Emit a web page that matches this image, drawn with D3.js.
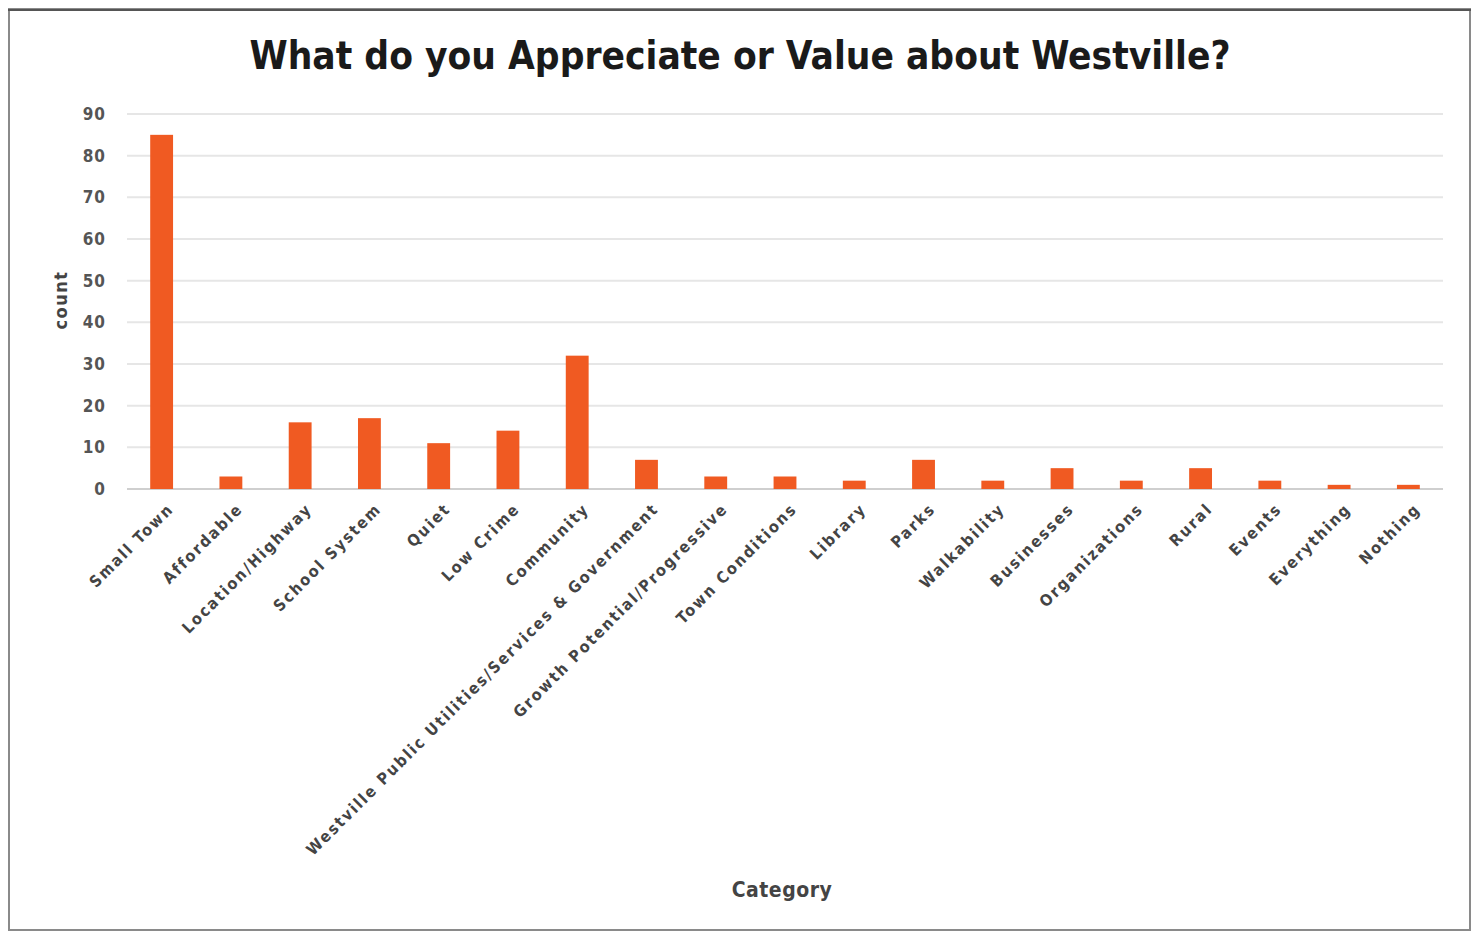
<!DOCTYPE html>
<html>
<head>
<meta charset="utf-8">
<script src="https://cdn.jsdelivr.net/npm/d3@7"></script>
<style>
  html, body { margin: 0; padding: 0; background: #fff; }
  svg { display: block; }
</style>
</head>
<body>
<svg id="chart" width="1480" height="934"></svg>
<script>
// Survey responses: what residents appreciate about Westville
const categories = [
  "Small Town", "Affordable", "Location/Highway", "School System", "Quiet",
  "Low Crime", "Community", "Westville Public Utilities/Services & Government",
  "Growth Potential/Progressive", "Town Conditions", "Library", "Parks",
  "Walkability", "Businesses", "Organizations", "Rural", "Events",
  "Everything", "Nothing"
];
const counts = [85, 3, 16, 17, 11, 14, 32, 7, 3, 3, 2, 7, 2, 5, 2, 5, 2, 1, 1];
const yTicks = [0, 10, 20, 30, 40, 50, 60, 70, 80, 90];

const titleText = "What do you Appreciate or Value about Westville?";
const xTitle = "Category";
const yTitle = "count";

const FONT = "DejaVu Sans Condensed, DejaVu Sans, sans-serif";

const svg = d3.select("#chart");
const W = 1480, H = 934;
const margin = { left: 127, right: 37, top: 114, bottom: 445 };
const plotW = W - margin.left - margin.right;
const plotH = H - margin.top - margin.bottom;

// Frame around the chart
svg.append("rect")
  .attr("x", 9).attr("y", 9)
  .attr("width", W - 19).attr("height", H - 13)
  .attr("fill", "#fff")
  .attr("stroke", "#8a8a8a").attr("stroke-width", 2);
svg.append("line")
  .attr("x1", 8).attr("x2", W - 9).attr("y1", 10).attr("y2", 10)
  .attr("stroke", "#555").attr("stroke-width", 2);

const x = d3.scaleBand()
  .domain(categories)
  .range([margin.left, margin.left + plotW])
  .paddingInner(0.67)
  .paddingOuter(0.335);

const y = d3.scaleLinear()
  .domain([0, 90])
  .range([margin.top + plotH, margin.top]);

// Horizontal gridlines
svg.append("g")
  .selectAll("line")
  .data(yTicks)
  .join("line")
  .attr("x1", margin.left).attr("x2", margin.left + plotW)
  .attr("y1", d => y(d)).attr("y2", d => y(d))
  .attr("stroke", d => d === 0 ? "#cfcfcf" : "#e6e6e6")
  .attr("stroke-width", 2);

// Y axis tick labels
const yAxis = d3.axisLeft(y).tickValues(yTicks).tickSize(0).tickPadding(0);
const gy = svg.append("g")
  .attr("transform", `translate(${margin.left - 21},0)`)
  .call(yAxis);
gy.select(".domain").remove();
gy.selectAll("text")
  .attr("font-family", FONT)
  .attr("font-size", 17)
  .attr("font-weight", "bold")
  .attr("letter-spacing", 1)
  .attr("fill", "#555");

// Bars
svg.append("g")
  .selectAll("rect")
  .data(categories.map((c, i) => ({ c, v: counts[i] })))
  .join("rect")
  .attr("x", d => x(d.c))
  .attr("width", x.bandwidth())
  .attr("y", d => y(d.v))
  .attr("height", d => y(0) - y(d.v))
  .attr("fill", "#f05a22");

// X axis with rotated category labels
const xAxis = d3.axisBottom(x).tickSize(0).tickPadding(0);
const gx = svg.append("g")
  .attr("transform", `translate(0,${y(0) + 17})`)
  .call(xAxis);
gx.select(".domain").remove();
gx.selectAll("text")
  .attr("font-family", FONT)
  .attr("font-size", 16)
  .attr("font-weight", "bold")
  .attr("letter-spacing", 2)
  .attr("fill", "#444")
  .attr("text-anchor", "end")
  .attr("dy", "0.35em")
  .attr("transform", "translate(9,0) rotate(-45)");

// Title
svg.append("text")
  .attr("x", 740).attr("y", 69)
  .attr("text-anchor", "middle")
  .attr("font-family", FONT)
  .attr("font-size", 38.5)
  .attr("font-weight", "bold")
  .attr("fill", "#1a1a1a")
  .text(titleText);

// Axis titles
svg.append("text")
  .attr("x", margin.left + plotW / 2 - 3).attr("y", 897)
  .attr("text-anchor", "middle")
  .attr("font-family", FONT)
  .attr("font-size", 21)
  .attr("font-weight", "bold")
  .attr("letter-spacing", 0.5)
  .attr("fill", "#444")
  .text(xTitle);

svg.append("text")
  .attr("transform", "translate(67,300) rotate(-90)")
  .attr("text-anchor", "middle")
  .attr("font-family", FONT)
  .attr("font-size", 18)
  .attr("font-weight", "bold")
  .attr("letter-spacing", 1.5)
  .attr("fill", "#444")
  .text(yTitle);
</script>
</body>
</html>
